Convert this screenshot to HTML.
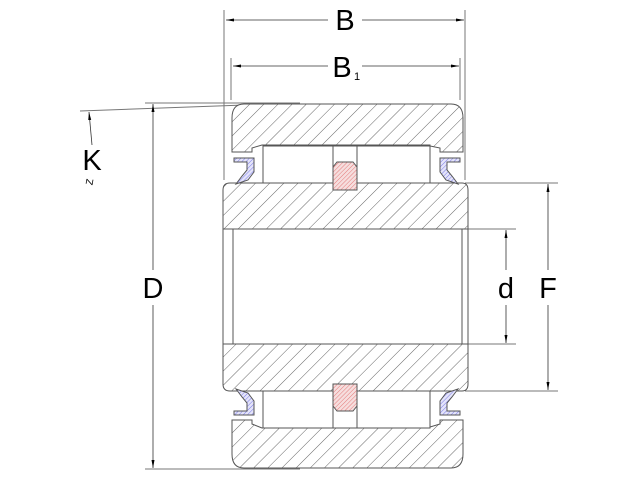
<!DOCTYPE html>
<html><head><meta charset="utf-8"><style>
html,body{margin:0;padding:0;background:#fff;}
svg{display:block;}
text{font-family:"Liberation Sans",sans-serif;fill:#000;}
</style></head><body>
<svg width="640" height="480" viewBox="0 0 640 480" xmlns="http://www.w3.org/2000/svg">
<defs>
<pattern id="h" patternUnits="userSpaceOnUse" width="10" height="10" patternTransform="rotate(45)">
<rect width="10" height="10" fill="#fff"/><line x1="0" y1="0" x2="0" y2="10" stroke="#555" stroke-width="0.9"/></pattern>
<pattern id="r" patternUnits="userSpaceOnUse" width="3" height="3" patternTransform="rotate(45)">
<rect width="3" height="3" fill="#f6dede"/><line x1="0" y1="0" x2="0" y2="3" stroke="#e06060" stroke-width="0.8"/></pattern>
<pattern id="b" patternUnits="userSpaceOnUse" width="3" height="3" patternTransform="rotate(45)">
<rect width="3" height="3" fill="#e4e4fa"/><line x1="0" y1="0" x2="0" y2="3" stroke="#6060e0" stroke-width="0.8"/></pattern>
<marker id="a" markerWidth="8" markerHeight="6" refX="8" refY="3" orient="auto" markerUnits="userSpaceOnUse"><path d="M0,1.5 L8,3 L0,4.5z" fill="#000"/></marker>
</defs>
<g stroke="#777" stroke-width="1" fill="none">
<line x1="224" y1="10" x2="224" y2="180"/><line x1="465" y1="10" x2="465" y2="180"/>
<line x1="231" y1="58" x2="231" y2="100"/><line x1="460" y1="58" x2="460" y2="100"/>
<line x1="145" y1="103" x2="300" y2="103"/><line x1="145" y1="469" x2="300" y2="469"/>
<line x1="80" y1="111" x2="300" y2="103"/>
<line x1="465" y1="183" x2="558" y2="183"/><line x1="465" y1="391" x2="558" y2="391"/>
<line x1="465" y1="229" x2="516" y2="229"/><line x1="465" y1="344" x2="516" y2="344"/>
</g>
<g stroke="#333" stroke-width="0.8" fill="none">
<line x1="328" y1="20" x2="226" y2="20" marker-end="url(#a)"/><line x1="362" y1="20" x2="464" y2="20" marker-end="url(#a)"/>
<line x1="328" y1="66" x2="233" y2="66" marker-end="url(#a)"/><line x1="362" y1="66" x2="459" y2="66" marker-end="url(#a)"/>
<line x1="153" y1="270" x2="153" y2="104" marker-end="url(#a)"/><line x1="153" y1="305" x2="153" y2="468" marker-end="url(#a)"/>
<line x1="548" y1="270" x2="548" y2="184" marker-end="url(#a)"/><line x1="548" y1="305" x2="548" y2="390" marker-end="url(#a)"/>
<line x1="506" y1="270" x2="506" y2="230" marker-end="url(#a)"/><line x1="506" y1="305" x2="506" y2="343" marker-end="url(#a)"/>
<line x1="92" y1="145" x2="89" y2="112" marker-end="url(#a)"/>
</g>
<g font-size="29">
<text x="345" y="30" text-anchor="middle">B</text>
<text x="342" y="77" text-anchor="middle">B</text>
<text x="153" y="298" text-anchor="middle">D</text>
<text x="506" y="298" text-anchor="middle">d</text>
<text x="548" y="298" text-anchor="middle">F</text>
<text x="92" y="170" text-anchor="middle">K</text>
</g>
<text x="354" y="80" font-size="11">1</text>
<text x="90" y="185" font-size="10" fill="#888" text-anchor="middle" transform="rotate(-80 90 182)">Z</text>
<g stroke="#555" stroke-width="1">
<path d="M244,104 H451 Q463,104 463,118 V152 H440 V148 L430,146 V145 H262 L252,148 V152 H232 V118 Q232,104 244,104Z" fill="url(#h)"/>
<path d="M244,468 H451 Q463,468 463,454 V420 H440 V424 L430,427 V428 H262 L252,424 V420 H232 V454 Q232,468 244,468Z" fill="url(#h)"/>
<path d="M230,183 H462 Q468,183 468,190 V384 Q468,391 462,391 H230 Q223,391 223,384 V190 Q223,183 230,183Z" fill="url(#h)"/>
<rect x="223" y="229" width="245" height="115" fill="#fff"/>
<rect x="233" y="229" width="229" height="115" fill="#fff"/>
<rect x="263" y="146" width="167" height="37" fill="#fff"/>
<rect x="263" y="391" width="167" height="37" fill="#fff"/>
<line x1="333" y1="146" x2="333" y2="183"/><line x1="357" y1="146" x2="357" y2="183"/>
<line x1="333" y1="391" x2="333" y2="428"/><line x1="357" y1="391" x2="357" y2="428"/>
<path d="M337,162 H353 L357,167 V190 H333 V167Z" fill="url(#r)"/>
<path d="M337,411 H353 L357,406 V384 H333 V406Z" fill="url(#r)"/>
<path d="M234,158 H254 V172 L248,180 L236,184 L242,176 L247,170 V162 H234Z" fill="url(#b)"/>
<path d="M460,158 H440 V172 L446,180 L458,184 L452,176 L447,170 V162 H460Z" fill="url(#b)"/>
<path d="M234,415 H254 V401 L248,393 L236,389 L242,397 L247,403 V411 H234Z" fill="url(#b)"/>
<path d="M460,415 H440 V401 L446,393 L458,389 L452,397 L447,403 V411 H460Z" fill="url(#b)"/>
</g>
</svg>
</body></html>
